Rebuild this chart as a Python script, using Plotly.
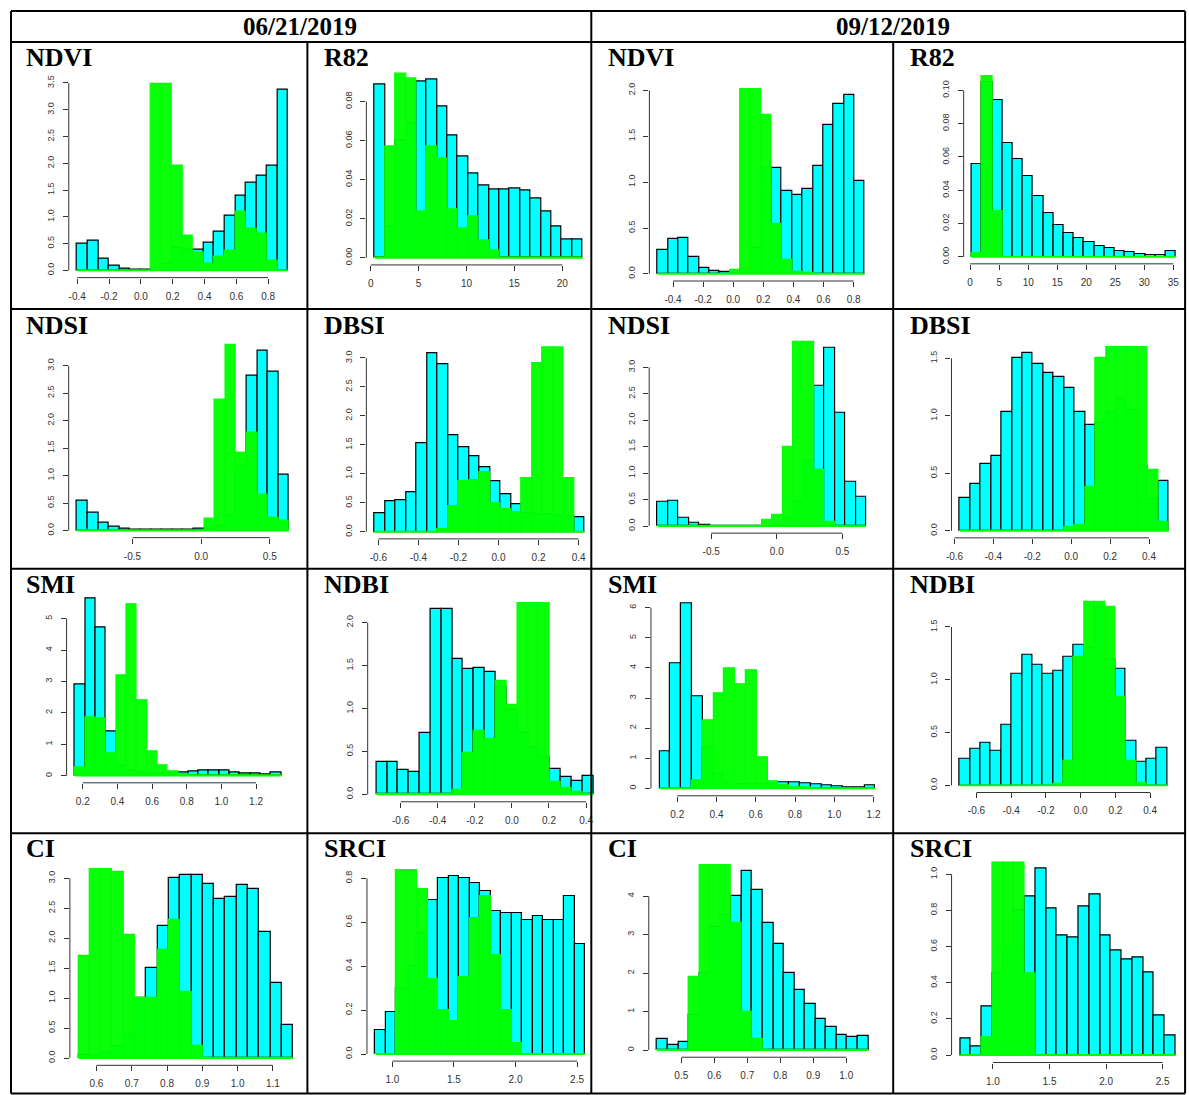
import plotly.graph_objects as go

# ======================= DATA =======================
# each panel: first bin edge, bin width, cyan heights, green heights, ticks

# --- row 1 ---
ndvi_jun_start, ndvi_jun_binw = -0.4, 0.06625
ndvi_jun_cyan = [0.50, 0.55, 0.22, 0.08, 0.03, 0.02, 0.01, 0.02, 0.13, 0.42,
                 0.38, 0.39, 0.52, 0.72, 1.03, 1.39, 1.64, 1.77, 1.96, 3.37]
ndvi_jun_green = [0, 0, 0, 0, 0, 0, 0, 3.6, 3.6, 1.96,
                  0.65, 0.33, 0.13, 0.25, 0.36, 1.10, 0.78, 0.68, 0.19, 0.0]
ndvi_jun_xticks = [-0.4, -0.2, 0.0, 0.2, 0.4, 0.6, 0.8]
ndvi_jun_xlabels = ["-0.4", "-0.2", "0.0", "0.2", "0.4", "0.6", "0.8"]
ndvi_jun_yticks = [0, 0.5, 1.0, 1.5, 2.0, 2.5, 3.0, 3.5]
ndvi_jun_ylabels = ["0.0", "0.5", "1.0", "1.5", "2.0", "2.5", "3.0", "3.5"]

r82_jun_start, r82_jun_binw = 0.42, 1.085
r82_jun_cyan = [0.0885, 0.016, 0.060, 0.069, 0.090, 0.0912, 0.0776, 0.0628, 0.0516, 0.043,
                0.0372, 0.0352, 0.0352, 0.0357, 0.0347, 0.0305, 0.0235, 0.016, 0.0092, 0.0092]
r82_jun_green = [0, 0.057, 0.0953, 0.0917, 0.0238, 0.057, 0.0507, 0.0249, 0.015, 0.0211,
                 0.0089, 0.0037, 0, 0, 0, 0, 0, 0, 0, 0]
r82_jun_xticks = [0, 5, 10, 15, 20]
r82_jun_xlabels = ["0", "5", "10", "15", "20"]
r82_jun_yticks = [0, 0.02, 0.04, 0.06, 0.08]
r82_jun_ylabels = ["0.00", "0.02", "0.04", "0.06", "0.08"]

ndvi_sep_start, ndvi_sep_binw = -0.502, 0.06875
ndvi_sep_cyan = [0.265, 0.378, 0.392, 0.18, 0.065, 0.03, 0.018, 0.01, 0.05, 0.28,
                 1.17, 1.16, 0.90, 0.86, 0.93, 1.18, 1.63, 1.85, 1.95, 1.01]
ndvi_sep_green = [0, 0, 0, 0, 0, 0, 0, 0.04, 2.1, 2.1,
                  1.73, 0.55, 0.155, 0.02, 0.01, 0, 0, 0, 0, 0]
ndvi_sep_xticks = [-0.4, -0.2, 0.0, 0.2, 0.4, 0.6, 0.8]
ndvi_sep_xlabels = ["-0.4", "-0.2", "0.0", "0.2", "0.4", "0.6", "0.8"]
ndvi_sep_yticks = [0, 0.5, 1.0, 1.5, 2.0]
ndvi_sep_ylabels = ["0.0", "0.5", "1.0", "1.5", "2.0"]

r82_sep_start, r82_sep_binw = 0.29, 1.758
r82_sep_cyan = [0.0558, 0.105, 0.0942, 0.0682, 0.0588, 0.0486, 0.0368, 0.0264, 0.0192, 0.0142,
                0.0114, 0.0086, 0.0066, 0.005, 0.0036, 0.0026, 0.0018, 0.0012, 0.0010, 0.0036]
r82_sep_green = [0.0024, 0.12, 0.0272, 0, 0, 0, 0, 0, 0, 0,
                 0, 0, 0, 0, 0, 0, 0, 0, 0, 0]
r82_sep_xticks = [0, 5, 10, 15, 20, 25, 30, 35]
r82_sep_xlabels = ["0", "5", "10", "15", "20", "25", "30", "35"]
r82_sep_yticks = [0, 0.02, 0.04, 0.06, 0.08, 0.10]
r82_sep_ylabels = ["0.00", "0.02", "0.04", "0.06", "0.08", "0.10"]

# --- row 2 ---
ndsi_jun_start, ndsi_jun_binw = -0.903, 0.0772
ndsi_jun_cyan = [0.545, 0.315, 0.133, 0.067, 0.03, 0.018, 0.012, 0.01, 0.01, 0.01,
                 0.01, 0.024, 0.03, 0.09, 0.27, 1.18, 2.82, 3.27, 2.90, 1.01]
ndsi_jun_green = [0, 0, 0, 0, 0, 0, 0, 0, 0, 0,
                  0, 0, 0.22, 2.38, 3.5, 1.41, 1.78, 0.65, 0.24, 0.18]
ndsi_jun_xticks = [-0.5, 0.0, 0.5]
ndsi_jun_xlabels = ["-0.5", "0.0", "0.5"]
ndsi_jun_yticks = [0, 0.5, 1.0, 1.5, 2.0, 2.5, 3.0]
ndsi_jun_ylabels = ["0.0", "0.5", "1.0", "1.5", "2.0", "2.5", "3.0"]

dbsi_jun_start, dbsi_jun_binw = -0.618, 0.0524
dbsi_jun_cyan = [0.316, 0.523, 0.546, 0.684, 1.534, 3.08, 2.885, 1.672, 1.454, 1.305,
                 1.12, 0.879, 0.655, 0.483, 0.32, 0.31, 0.30, 0.29, 0.27, 0.247]
dbsi_jun_green = [0, 0, 0, 0, 0, 0, 0.05, 0.437, 0.868, 0.897,
                  1.023, 0.489, 0.385, 0.333, 0.92, 2.91, 3.3, 3.3, 0.92, 0]
dbsi_jun_xticks = [-0.6, -0.4, -0.2, 0.0, 0.2, 0.4]
dbsi_jun_xlabels = ["-0.6", "-0.4", "-0.2", "0.0", "0.2", "0.4"]
dbsi_jun_yticks = [0, 0.5, 1.0, 1.5, 2.0, 2.5, 3.0]
dbsi_jun_ylabels = ["0.0", "0.5", "1.0", "1.5", "2.0", "2.5", "3.0"]

ndsi_sep_start, ndsi_sep_binw = -0.909, 0.0795
ndsi_sep_cyan = [0.46, 0.47, 0.164, 0.057, 0.02, 0.013, 0.012, 0.01, 0.008, 0.008,
                 0.01, 0.05, 0.15, 0.45, 1.23, 2.64, 3.365, 2.13, 0.836, 0.56]
ndsi_sep_green = [0, 0, 0, 0, 0, 0, 0, 0, 0, 0,
                  0.113, 0.214, 1.49, 3.6, 3.6, 1.063, 0.075, 0, 0, 0]
ndsi_sep_xticks = [-0.5, 0.0, 0.5]
ndsi_sep_xlabels = ["-0.5", "0.0", "0.5"]
ndsi_sep_yticks = [0, 0.5, 1.0, 1.5, 2.0, 2.5, 3.0]
ndsi_sep_ylabels = ["0.0", "0.5", "1.0", "1.5", "2.0", "2.5", "3.0"]

dbsi_sep_start, dbsi_sep_binw = -0.5726, 0.0537
dbsi_sep_cyan = [0.284, 0.411, 0.579, 0.649, 1.031, 1.506, 1.546, 1.448, 1.37, 1.338,
                 1.245, 1.034, 0.924, 0.935, 1.03, 1.147, 1.05, 0.56, 0.28, 0.431]
dbsi_sep_green = [0, 0, 0, 0, 0, 0, 0, 0, 0, 0,
                  0.029, 0.052, 0.382, 1.5, 1.7, 1.7, 1.7, 1.7, 0.533, 0.078]
dbsi_sep_xticks = [-0.6, -0.4, -0.2, 0.0, 0.2, 0.4]
dbsi_sep_xlabels = ["-0.6", "-0.4", "-0.2", "0.0", "0.2", "0.4"]
dbsi_sep_yticks = [0, 0.5, 1.0, 1.5]
dbsi_sep_ylabels = ["0.0", "0.5", "1.0", "1.5"]

# --- row 3 ---
smi_jun_start, smi_jun_binw = 0.154, 0.0596
smi_jun_cyan = [2.91, 5.64, 4.735, 1.40, 0.34, 0.16, 0.10, 0.08, 0.08, 0.08,
                0.106, 0.138, 0.17, 0.18, 0.16, 0.117, 0.085, 0.064, 0.032, 0.106]
smi_jun_green = [0.275, 1.854, 1.822, 0.70, 3.2, 5.445, 2.394, 0.763, 0.33, 0.127,
                 0.03, 0.01, 0.01, 0.01, 0.01, 0.01, 0.01, 0.01, 0.01, 0.01]
smi_jun_xticks = [0.2, 0.4, 0.6, 0.8, 1.0, 1.2]
smi_jun_xlabels = ["0.2", "0.4", "0.6", "0.8", "1.0", "1.2"]
smi_jun_yticks = [0, 1, 2, 3, 4, 5]
smi_jun_ylabels = ["0", "1", "2", "3", "4", "5"]

ndbi_jun_start, ndbi_jun_binw = -0.731, 0.0585
ndbi_jun_cyan = [0.372, 0.372, 0.287, 0.264, 0.721, 2.155, 2.155, 1.581, 1.457, 1.469,
                 1.426, 1.25, 0.98, 0.72, 0.546, 0.434, 0.295, 0.205, 0.159, 0.217]
ndbi_jun_green = [0, 0, 0, 0, 0, 0, 0, 0.05, 0.488, 0.744,
                  0.651, 1.318, 1.047, 2.35, 2.35, 2.35, 0.14, 0.078, 0.027, 0.01]
ndbi_jun_xticks = [-0.6, -0.4, -0.2, 0.0, 0.2, 0.4]
ndbi_jun_xlabels = ["-0.6", "-0.4", "-0.2", "0.0", "0.2", "0.4"]
ndbi_jun_yticks = [0, 0.5, 1.0, 1.5, 2.0]
ndbi_jun_ylabels = ["0.0", "0.5", "1.0", "1.5", "2.0"]

smi_sep_start, smi_sep_binw = 0.110, 0.055
smi_sep_cyan = [1.227, 4.144, 6.13, 3.06, 1.35, 0.5, 0.2, 0.12, 0.12, 0.15,
                0.15, 0.199, 0.19, 0.166, 0.144, 0.10, 0.077, 0.044, 0.022, 0.11]
smi_sep_green = [0, 0, 0, 0.265, 2.254, 3.149, 3.978, 3.447, 3.934, 1.039,
                 0.243, 0.10, 0.05, 0.02, 0.01, 0, 0, 0, 0, 0]
smi_sep_xticks = [0.2, 0.4, 0.6, 0.8, 1.0, 1.2]
smi_sep_xlabels = ["0.2", "0.4", "0.6", "0.8", "1.0", "1.2"]
smi_sep_yticks = [0, 1, 2, 3, 4, 5, 6]
smi_sep_ylabels = ["0", "1", "2", "3", "4", "5", "6"]

ndbi_sep_start, ndbi_sep_binw = -0.696, 0.0597
ndbi_sep_cyan = [0.255, 0.347, 0.40, 0.325, 0.574, 1.056, 1.232, 1.138, 1.056, 1.081,
                 1.215, 1.33, 1.30, 1.68, 1.20, 1.106, 0.419, 0.224, 0.249, 0.356]
ndbi_sep_green = [0, 0, 0, 0, 0, 0, 0, 0, 0, 0.019,
                  0.23, 1.216, 1.8, 1.8, 1.69, 0.841, 0.23, 0.02, 0, 0]
ndbi_sep_xticks = [-0.6, -0.4, -0.2, 0.0, 0.2, 0.4]
ndbi_sep_xlabels = ["-0.6", "-0.4", "-0.2", "0.0", "0.2", "0.4"]
ndbi_sep_yticks = [0, 0.5, 1.0, 1.5]
ndbi_sep_ylabels = ["0.0", "0.5", "1.0", "1.5"]

# --- row 4 ---
ci_jun_start, ci_jun_binw = 0.549, 0.032
ci_jun_cyan = [0.05, 0.05, 0.1, 0.2, 0.4, 1.0, 1.5, 2.2, 3.0, 3.05,
               3.05, 2.9, 2.65, 2.68, 2.88, 2.82, 2.1, 1.25, 0.55]
ci_jun_green = [1.7, 3.3, 3.3, 3.1, 2.05, 1.0, 1.0, 1.8, 2.3, 1.1,
                0.2, 0, 0, 0, 0, 0, 0, 0, 0]
ci_jun_xticks = [0.6, 0.7, 0.8, 0.9, 1.0, 1.1]
ci_jun_xlabels = ["0.6", "0.7", "0.8", "0.9", "1.0", "1.1"]
ci_jun_yticks = [0, 0.5, 1.0, 1.5, 2.0, 2.5, 3.0]
ci_jun_ylabels = ["0.0", "0.5", "1.0", "1.5", "2.0", "2.5", "3.0"]

srci_jun_start, srci_jun_binw = 0.862, 0.0852
srci_jun_cyan = [0.11, 0.19, 0.3, 0.4, 0.55, 0.70, 0.80, 0.81, 0.80, 0.78,
                 0.74, 0.65, 0.64, 0.64, 0.61, 0.63, 0.61, 0.61, 0.72, 0.50]
srci_jun_green = [0, 0, 0.9, 0.9, 0.75, 0.34, 0.2, 0.15, 0.35, 0.62,
                  0.72, 0.45, 0.2, 0.05, 0, 0, 0, 0, 0, 0]
srci_jun_xticks = [1.0, 1.5, 2.0, 2.5]
srci_jun_xlabels = ["1.0", "1.5", "2.0", "2.5"]
srci_jun_yticks = [0, 0.2, 0.4, 0.6, 0.8]
srci_jun_ylabels = ["0.0", "0.2", "0.4", "0.6", "0.8"]

ci_sep_start, ci_sep_binw = 0.427, 0.032
ci_sep_cyan = [0.28, 0.12, 0.22, 0.9, 2.0, 3.2, 3.5, 4.0, 4.65, 4.15,
               3.3, 2.75, 2.0, 1.55, 1.2, 0.8, 0.6, 0.38, 0.33, 0.37]
ci_sep_green = [0, 0, 0, 1.9, 5.0, 5.0, 5.0, 3.3, 1.0, 0.3,
                0, 0, 0, 0, 0, 0, 0, 0, 0, 0]
ci_sep_xticks = [0.5, 0.6, 0.7, 0.8, 0.9, 1.0]
ci_sep_xlabels = ["0.5", "0.6", "0.7", "0.8", "0.9", "1.0"]
ci_sep_yticks = [0, 1, 2, 3, 4]
ci_sep_ylabels = ["0", "1", "2", "3", "4"]

srci_sep_start, srci_sep_binw = 0.711, 0.0951
srci_sep_cyan = [0.09, 0.05, 0.27, 0.45, 0.6, 0.8, 0.88, 1.03, 0.81, 0.66,
                 0.65, 0.82, 0.89, 0.66, 0.58, 0.53, 0.54, 0.46, 0.22, 0.11]
srci_sep_green = [0, 0, 0.1, 1.1, 1.1, 1.1, 0.45, 0, 0, 0,
                  0, 0, 0, 0, 0, 0, 0, 0, 0, 0]
srci_sep_xticks = [1.0, 1.5, 2.0, 2.5]
srci_sep_xlabels = ["1.0", "1.5", "2.0", "2.5"]
srci_sep_yticks = [0, 0.2, 0.4, 0.6, 0.8, 1.0]
srci_sep_ylabels = ["0.0", "0.2", "0.4", "0.6", "0.8", "1.0"]

date_labels = ["06/21/2019", "09/12/2019"]

# ======================= LAYOUT / STYLE =======================
W, H = 1189, 1095
# the page photo places figure pixel f at about OX + SX*f; compensate so marks land where intended
OX, OY, SX, SY = 5.5, 5.5, 0.9953, 0.995


def PX(px):
    return min(max((px - OX) / (SX * W), 0.0), 1.0)


def PY(py):
    return min(max(1 - (py - OY) / (SY * H), 0.0), 1.0)


CYAN = "#00FFFF"
GREEN_FILL = "rgba(0,255,0,0.96)"
GREEN_LINE = "#00FF00"
AXC = "#333333"
XTICKFONT = dict(family="Liberation Sans, Arial, sans-serif", size=10, color="#333333")
YTICKFONT = dict(family="Liberation Sans, Arial, sans-serif", size=9, color="#333333")
TITLEFONT = dict(family="Liberation Serif, Times New Roman, serif", size=26, color="black")

# panel: (title, start, binw, cyan, green, xt, xl, yt, yl, plot-box px [L, R, T, B], title pos px)
panels = [
    ("NDVI", ndvi_jun_start, ndvi_jun_binw, ndvi_jun_cyan, ndvi_jun_green, ndvi_jun_xticks, ndvi_jun_xlabels, ndvi_jun_yticks, ndvi_jun_ylabels, (68.3, 296.1, 81.3, 276.5), (23.5, 55.7)),
    ("R82", r82_jun_start, r82_jun_binw, r82_jun_cyan, r82_jun_green, r82_jun_xticks, r82_jun_xlabels, r82_jun_yticks, r82_jun_ylabels, (366.0, 590.6, 71.1, 263.8), (322, 55.7)),
    ("NDVI", ndvi_sep_start, ndvi_sep_binw, ndvi_sep_cyan, ndvi_sep_green, ndvi_sep_xticks, ndvi_sep_xlabels, ndvi_sep_yticks, ndvi_sep_ylabels, (649.1, 872.7, 86.5, 279.9), (606, 55.7)),
    ("R82", r82_sep_start, r82_sep_binw, r82_sep_cyan, r82_sep_green, r82_sep_xticks, r82_sep_xlabels, r82_sep_yticks, r82_sep_ylabels, (963.5, 1184.0, 73.7, 262.7), (908, 55.7)),
    ("NDSI", ndsi_jun_start, ndsi_jun_binw, ndsi_jun_cyan, ndsi_jun_green, ndsi_jun_xticks, ndsi_jun_xlabels, ndsi_jun_yticks, ndsi_jun_ylabels, (68.2, 297.2, 342.7, 536.9), (23.5, 324.7)),
    ("DBSI", dbsi_jun_start, dbsi_jun_binw, dbsi_jun_cyan, dbsi_jun_green, dbsi_jun_xticks, dbsi_jun_xlabels, dbsi_jun_yticks, dbsi_jun_ylabels, (366.0, 592.7, 345.2, 538.1), (322, 324.7)),
    ("NDSI", ndsi_sep_start, ndsi_sep_binw, ndsi_sep_cyan, ndsi_sep_green, ndsi_sep_xticks, ndsi_sep_xlabels, ndsi_sep_yticks, ndsi_sep_ylabels, (648.9, 874.3, 339.8, 532.4), (606, 324.7)),
    ("DBSI", dbsi_sep_start, dbsi_sep_binw, dbsi_sep_cyan, dbsi_sep_green, dbsi_sep_xticks, dbsi_sep_xlabels, dbsi_sep_yticks, dbsi_sep_ylabels, (951.3, 1177.0, 344.9, 537.1), (908, 324.7)),
    ("SMI", smi_jun_start, smi_jun_binw, smi_jun_cyan, smi_jun_green, smi_jun_xticks, smi_jun_xlabels, smi_jun_yticks, smi_jun_ylabels, (66.1, 289.2, 590.7, 782.4), (23.5, 583.7)),
    ("NDBI", ndbi_jun_start, ndbi_jun_binw, ndbi_jun_cyan, ndbi_jun_green, ndbi_jun_xticks, ndbi_jun_xlabels, ndbi_jun_yticks, ndbi_jun_ylabels, (367.3, 601.7, 601.3, 801.4), (322, 583.7)),
    ("SMI", smi_sep_start, smi_sep_binw, smi_sep_cyan, smi_sep_green, smi_sep_xticks, smi_sep_xlabels, smi_sep_yticks, smi_sep_ylabels, (650.7, 883.9, 595.7, 795.4), (606, 583.7)),
    ("NDBI", ndbi_sep_start, ndbi_sep_binw, ndbi_sep_cyan, ndbi_sep_green, ndbi_sep_xticks, ndbi_sep_xlabels, ndbi_sep_yticks, ndbi_sep_ylabels, (951.3, 1175.4, 600.2, 792.1), (908, 583.7)),
    ("CI", ci_jun_start, ci_jun_binw, ci_jun_cyan, ci_jun_green, ci_jun_xticks, ci_jun_xlabels, ci_jun_yticks, ci_jun_ylabels, (69.4, 301.2, 867.7, 1065.3), (23.5, 848)),
    ("SRCI", srci_jun_start, srci_jun_binw, srci_jun_cyan, srci_jun_green, srci_jun_xticks, srci_jun_xlabels, srci_jun_yticks, srci_jun_ylabels, (366.6, 593.3, 868.8, 1061.1), (322, 848)),
    ("CI", ci_sep_start, ci_sep_binw, ci_sep_cyan, ci_sep_green, ci_sep_xticks, ci_sep_xlabels, ci_sep_yticks, ci_sep_ylabels, (648.5, 876.6, 863.7, 1057.2), (606, 848)),
    ("SRCI", srci_sep_start, srci_sep_binw, srci_sep_cyan, srci_sep_green, srci_sep_xticks, srci_sep_xlabels, srci_sep_yticks, srci_sep_ylabels, (951.4, 1184.0, 861.1, 1062.5), (908, 848)),
]

fig = go.Figure()
shapes = []
annotations = []
layout_axes = {}

for i, (title, start, binw, cyan, green, xt, xl, yt, yl, box, tpos) in enumerate(panels, start=1):
    sfx = "" if i == 1 else str(i)
    xa, ya = "x" + sfx, "y" + sfx
    n = len(cyan)
    centers = [start + binw * (k + 0.5) for k in range(n)]
    x_lo, x_hi = start, start + binw * n
    span = x_hi - x_lo
    ymax = max(cyan)

    fig.add_trace(go.Bar(x=centers, y=cyan, width=[binw] * n, xaxis=xa, yaxis=ya,
                         marker=dict(color=CYAN, line=dict(color="black", width=1.2)),
                         hoverinfo="skip", showlegend=False))
    fig.add_trace(go.Bar(x=centers, y=green, width=[binw] * n, xaxis=xa, yaxis=ya,
                         marker=dict(color=GREEN_FILL, line=dict(color=GREEN_LINE, width=1.2)),
                         hoverinfo="skip", showlegend=False))
    fig.add_trace(go.Scatter(x=[x_lo, x_hi], y=[0, 0], mode="lines", xaxis=xa, yaxis=ya,
                             line=dict(color=GREEN_LINE, width=1.8),
                             hoverinfo="skip", showlegend=False))

    L, R, T, B = box
    layout_axes["xaxis" + sfx] = dict(
        domain=[PX(L), PX(R)], range=[x_lo - 0.04 * span, x_hi + 0.04 * span],
        anchor=ya, showgrid=False, zeroline=False, showline=False,
        ticks="outside", ticklen=5, tickwidth=1, tickcolor=AXC,
        tickmode="array", tickvals=xt, ticktext=xl, tickfont=XTICKFONT,
        ticklabelstandoff=4, fixedrange=True)
    layout_axes["yaxis" + sfx] = dict(
        domain=[PY(B), PY(T)], range=[-0.04 * ymax, 1.04 * ymax],
        anchor=xa, showgrid=False, zeroline=False, showline=False,
        ticks="outside", ticklen=5, tickwidth=1, tickcolor=AXC, tickangle=-90,
        tickmode="array", tickvals=yt, ticktext=yl, tickfont=YTICKFONT,
        ticklabelstandoff=5, fixedrange=True)

    # R-style axis lines spanning first..last tick
    shapes.append(dict(type="line", xref=xa, yref=ya + " domain", x0=xt[0], x1=xt[-1], y0=0, y1=0,
                       line=dict(color=AXC, width=1)))
    shapes.append(dict(type="line", xref=xa + " domain", yref=ya, x0=0, x1=0, y0=yt[0], y1=yt[-1],
                       line=dict(color=AXC, width=1)))

    annotations.append(dict(text="<b>%s</b>" % title, x=PX(tpos[0]), y=PY(tpos[1]),
                            xref="paper", yref="paper", xanchor="left", yanchor="middle",
                            showarrow=False, font=TITLEFONT))

# header dates
for lbl, cx in zip(date_labels, [300, 893]):
    annotations.append(dict(text="<b>%s</b>" % lbl, x=PX(cx), y=PY(25), xref="paper", yref="paper",
                            xanchor="center", yanchor="middle", showarrow=False,
                            font=dict(family="Liberation Serif, Times New Roman, serif", size=25, color="black")))


# table grid
def px_line(x0, y0, x1, y1):
    return dict(type="line", xref="paper", yref="paper", x0=PX(x0), x1=PX(x1),
                y0=PY(y0), y1=PY(y1), line=dict(color="black", width=2), layer="above")


top, hdr, bot = 9.5, 40.5, 1093.5
left, right = 10.5, 1185
for yy in [top, hdr, 308, 568, 833, bot]:
    shapes.append(px_line(left, yy, right, yy))
shapes.append(px_line(left, top, left, bot))
shapes.append(px_line(right, top, right, bot))
shapes.append(px_line(591, top, 591, bot))
shapes.append(px_line(307, hdr, 307, bot))
shapes.append(px_line(893, hdr, 893, bot))

fig.update_layout(
    width=W, height=H, autosize=False,
    margin=dict(l=0, r=0, t=0, b=0),
    paper_bgcolor="white", plot_bgcolor="white",
    barmode="overlay", bargap=0,
    shapes=shapes, annotations=annotations,
    **layout_axes,
)

fig.write_html(
    "out.html",
    config={"displayModeBar": False},
    post_script="document.body.style.margin='0';document.body.style.padding='0';"
                "document.documentElement.style.overflow='hidden';document.body.style.overflow='hidden';",
)
